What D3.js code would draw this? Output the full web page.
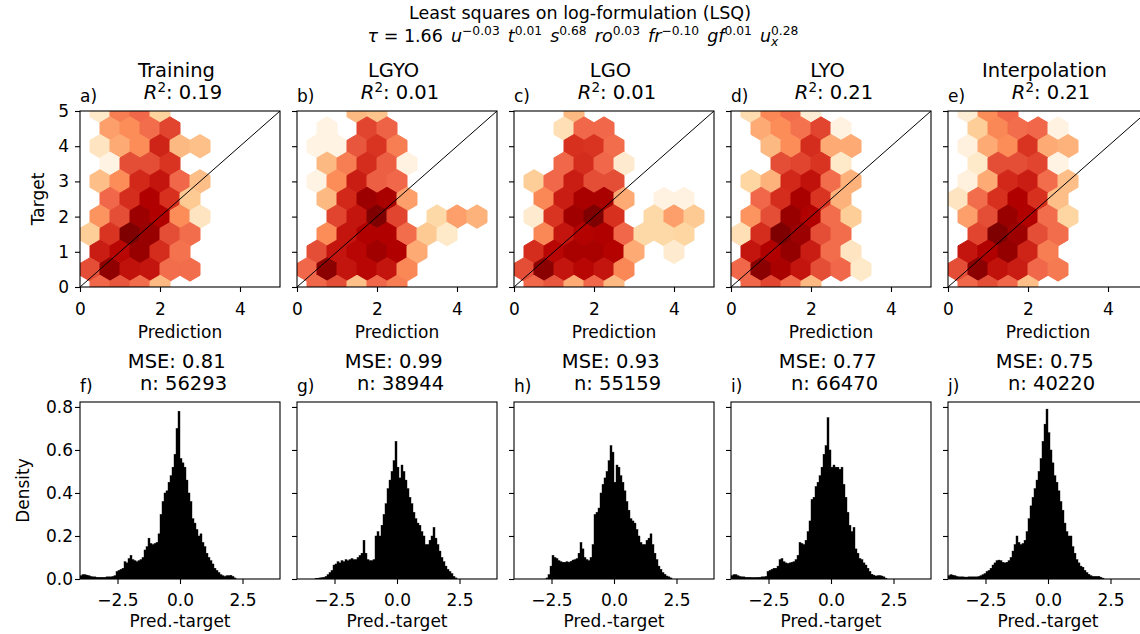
<!DOCTYPE html>
<html><head><meta charset="utf-8">
<script src="https://cdn.jsdelivr.net/npm/d3@7"></script>
<style>
body{margin:0;background:#fff}
svg{display:block}
text{font-family:"DejaVu Sans",sans-serif;fill:#000}
</style>
</head><body>
<svg id="chart" width="1140" height="634"></svg>
<script>
// ---------------- data ----------------
const suptitle = "Least squares on log-formulation (LSQ)";
const formulaCoef = "1.66";
const formulaTerms = [["u","−0.03",""],["t","0.01",""],["s","0.68",""],["ro","0.03",""],["fr","−0.10",""],["gf","0.01",""],["u","0.28","x"]];

const panelTitles = ["Training","LGYO","LGO","LYO","Interpolation"];
const topLetters = ["a)","b)","c)","d)","e)"];
const bottomLetters = ["f)","g)","h)","i)","j)"];
const r2Values = ["0.19","0.01","0.01","0.21","0.21"];
const mseValues = ["0.81","0.99","0.93","0.77","0.75"];
const nValues = ["56293","38944","55159","66470","40220"];

const hexDomain = [0,5];
const hexXTicks = [0,2,4];
const hexYTicks = [0,1,2,3,4,5];
const histXDomain = [-4,4];
const histYDomain = [0,0.823];
const histXTicks = [-2.5,0,2.5];
const histYTicks = [0,0.2,0.4,0.6,0.8];

// hex cells: [x centre, y centre, colour level 0..1 (log count, OrRd)]
const hexTraining = [
[0.5,5,0.12],[1,5,0.55],[1.5,5,0.62],[2,5,0.25],
[0.75,4.5,0.45],[1.25,4.5,0.5],[1.75,4.5,0.6],[2.25,4.5,0.7],
[0.5,4,0.15],[1,4,0.42],[1.5,4,0.5],[2,4,0.78],[2.5,4,0.38],[3,4,0.35],
[0.75,3.5,0.03],[1.25,3.5,0.68],[1.75,3.5,0.68],[2.25,3.5,0.74],
[0.5,3,0.36],[1,3,0.5],[1.5,3,0.77],[2,3,0.82],[2.5,3,0.62],[3,3,0.36],
[0.75,2.5,0.62],[1.25,2.5,0.76],[1.75,2.5,0.88],[2.25,2.5,0.75],[2.75,2.5,0.3],
[0.5,2,0.48],[1,2,0.68],[1.5,2,0.93],[2,2,0.88],[2.5,2,0.5],[3,2,0.15],
[0.25,1.5,0.28],[0.75,1.5,0.74],[1.25,1.5,1.0],[1.75,1.5,0.94],[2.25,1.5,0.68],[2.75,1.5,0.6],
[0.5,1,0.8],[1,1,0.86],[1.5,1,0.94],[2,1,0.76],[2.5,1,0.58],
[0.25,0.5,0.68],[0.75,0.5,0.96],[1.25,0.5,0.83],[1.75,0.5,0.82],[2.25,0.5,0.6],[2.75,0.5,0.6],
[0.5,0,0.62],[1,0,0.66],[1.5,0,0.6],[2,0,0.38]
];
const hexLGYO = [
[1.5,5,0.38],[2,5,0.33],
[0.75,4.5,0.03],[1.75,4.5,0.7],[2.25,4.5,0.63],
[0.5,4,0.03],[1,4,0.03],[1.5,4,0.66],[2,4,0.74],[2.5,4,0.55],
[0.75,3.5,0.38],[1.25,3.5,0.55],[1.75,3.5,0.76],[2.25,3.5,0.64],[2.75,3.5,0.04],
[0.5,3,0.03],[1,3,0.5],[1.5,3,0.8],[2,3,0.64],[2.5,3,0.62],
[0.75,2.5,0.38],[1.25,2.5,0.77],[1.75,2.5,0.93],[2.25,2.5,0.9],[2.75,2.5,0.45],
[1,2,0.7],[1.5,2,0.82],[2,2,1.0],[2.5,2,0.7],[3.5,2,0.22],[4,2,0.45],[4.5,2,0.4],
[0.75,1.5,0.5],[1.25,1.5,0.82],[1.75,1.5,0.88],[2.25,1.5,0.88],[2.75,1.5,0.6],[3.25,1.5,0.3],[3.75,1.5,0.12],
[0.5,1,0.68],[1,1,0.82],[1.5,1,0.86],[2,1,0.92],[2.5,1,0.88],[3,1,0.42],
[0.25,0.5,0.62],[0.75,0.5,0.97],[1.25,0.5,0.82],[1.75,0.5,0.86],[2.25,0.5,0.82],[2.75,0.5,0.52],
[0.5,0,0.62],[1,0,0.68],[1.5,0,0.35],[2,0,0.62],[2.5,0,0.55]
];
const hexLGO = [
[1.5,5,0.38],
[1.25,4.5,0.18],[1.75,4.5,0.62],[2.25,4.5,0.62],
[1.5,4,0.75],[2,4,0.74],[2.5,4,0.6],
[1.25,3.5,0.62],[1.75,3.5,0.76],[2.25,3.5,0.62],[2.75,3.5,0.1],
[0.5,3,0.28],[1,3,0.62],[1.5,3,0.8],[2,3,0.68],[2.5,3,0.68],
[0.75,2.5,0.52],[1.25,2.5,0.8],[1.75,2.5,0.9],[2.25,2.5,0.9],[2.75,2.5,0.42],[3.75,2.5,0.04],[4.25,2.5,0.04],
[0.5,2,0.1],[1,2,0.74],[1.5,2,0.92],[2,2,1.0],[2.5,2,0.75],[3.5,2,0.22],[4,2,0.45],[4.5,2,0.3],
[0.75,1.5,0.52],[1.25,1.5,0.82],[1.75,1.5,0.87],[2.25,1.5,0.88],[2.75,1.5,0.62],[3.25,1.5,0.22],[3.75,1.5,0.22],[4.25,1.5,0.24],
[0.5,1,0.76],[1,1,0.86],[1.5,1,0.9],[2,1,0.9],[2.5,1,0.87],[3,1,0.42],[4,1,0.1],
[0.25,0.5,0.68],[0.75,0.5,0.97],[1.25,0.5,0.82],[1.75,0.5,0.86],[2.25,0.5,0.82],[2.75,0.5,0.52],
[0.5,0,0.62],[1,0,0.66],[1.5,0,0.42],[2,0,0.62],[2.5,0,0.38]
];
const hexLYO = [
[0.5,5,0.2],[1,5,0.52],[1.5,5,0.6],[2,5,0.08],
[0.75,4.5,0.42],[1.25,4.5,0.5],[1.75,4.5,0.58],[2.25,4.5,0.7],[2.75,4.5,0.04],
[1,4,0.38],[1.5,4,0.5],[2,4,0.76],[2.5,4,0.42],[3,4,0.42],
[1.25,3.5,0.68],[1.75,3.5,0.7],[2.25,3.5,0.74],[2.75,3.5,0.12],
[0.5,3,0.24],[1,3,0.4],[1.5,3,0.77],[2,3,0.83],[2.5,3,0.6],[3,3,0.4],
[0.75,2.5,0.62],[1.25,2.5,0.76],[1.75,2.5,0.9],[2.25,2.5,0.74],[2.75,2.5,0.4],
[0.5,2,0.48],[1,2,0.68],[1.5,2,0.94],[2,2,0.88],[2.5,2,0.6],[3,2,0.28],
[0.25,1.5,0.18],[0.75,1.5,0.76],[1.25,1.5,1.0],[1.75,1.5,0.93],[2.25,1.5,0.68],[2.75,1.5,0.6],
[0.5,1,0.82],[1,1,0.88],[1.5,1,0.95],[2,1,0.8],[2.5,1,0.6],[3,1,0.15],
[0.25,0.5,0.62],[0.75,0.5,0.97],[1.25,0.5,0.9],[1.75,0.5,0.82],[2.25,0.5,0.68],[2.75,0.5,0.62],[3.25,0.5,0.12],
[0.5,0,0.62],[1,0,0.7],[1.5,0,0.6],[2,0,0.38]
];
const hexInterpolation = [
[0.5,5,0.08],[1,5,0.5],[1.5,5,0.62],
[0.75,4.5,0.28],[1.25,4.5,0.52],[1.75,4.5,0.6],[2.25,4.5,0.62],[2.75,4.5,0.04],
[0.5,4,0.05],[1,4,0.42],[1.5,4,0.5],[2,4,0.74],[2.5,4,0.42],[3,4,0.4],
[0.75,3.5,0.12],[1.25,3.5,0.68],[1.75,3.5,0.68],[2.25,3.5,0.7],[2.75,3.5,0.03],
[0.5,3,0.05],[1,3,0.42],[1.5,3,0.77],[2,3,0.8],[2.5,3,0.6],[3,3,0.36],
[0.25,2.5,0.15],[0.75,2.5,0.6],[1.25,2.5,0.75],[1.75,2.5,0.88],[2.25,2.5,0.75],[2.75,2.5,0.36],
[0.5,2,0.45],[1,2,0.68],[1.5,2,0.94],[2,2,0.88],[2.5,2,0.6],[3,2,0.24],
[0.75,1.5,0.7],[1.25,1.5,1.0],[1.75,1.5,0.93],[2.25,1.5,0.68],[2.75,1.5,0.6],
[0.5,1,0.82],[1,1,0.88],[1.5,1,0.95],[2,1,0.78],[2.5,1,0.55],
[0.25,0.5,0.68],[0.75,0.5,0.97],[1.25,0.5,0.83],[1.75,0.5,0.8],[2.25,0.5,0.62],[2.75,0.5,0.56],
[0.5,0,0.62],[1,0,0.68],[1.5,0,0.62],[2,0,0.36]
];
const hexPanels = [hexTraining, hexLGYO, hexLGO, hexLYO, hexInterpolation];

// histograms: density per bin, bins of width histBinWidth starting at histStart
const histStart = -4;
const histBinWidth = 0.08;
const histTraining = [0.015,0.02,0.02,0.018,0.015,0.012,0.01,0.01,0.008,0.008,0.008,0.008,0.008,0.01,0.01,0.01,0.012,0.015,
0.035,0.04,0.045,0.05,0.08,0.075,0.095,0.11,0.09,0.085,0.08,0.085,0.09,0.1,0.135,0.15,0.19,0.165,0.16,0.165,0.17,0.21,
0.3,0.36,0.4,0.41,0.45,0.48,0.52,0.58,0.7,0.78,0.56,0.54,0.52,0.46,0.4,0.36,0.28,0.26,0.23,0.2,
0.21,0.17,0.15,0.12,0.1,0.085,0.07,0.05,0.04,0.03,0.02,0.015,0.012,0.015,0.015,0.017,0.012,0.005];
const histLGYO = [0,0,0,0,0,0,0,0,0,0.003,0.004,0.005,0.006,0.008,0.012,0.02,0.03,0.04,
0.065,0.07,0.08,0.075,0.085,0.08,0.09,0.085,0.09,0.095,0.09,0.09,0.1,0.11,0.12,0.18,0.12,0.09,0.085,0.085,0.09,0.2,
0.22,0.2,0.25,0.3,0.35,0.42,0.46,0.5,0.55,0.64,0.52,0.47,0.53,0.5,0.46,0.42,0.38,0.35,0.31,0.28,
0.26,0.25,0.22,0.2,0.16,0.16,0.18,0.2,0.24,0.19,0.16,0.13,0.1,0.08,0.06,0.045,0.035,0.025,0.012,0.005];
const histLGO = [0,0,0,0,0,0,0,0,0,0,0,0,0,0,0,0,0.005,0.02,
0.06,0.11,0.1,0.095,0.085,0.08,0.078,0.078,0.08,0.078,0.082,0.088,0.09,0.095,0.12,0.17,0.14,0.1,0.09,0.085,0.1,0.16,
0.3,0.31,0.33,0.4,0.44,0.47,0.5,0.55,0.62,0.59,0.45,0.53,0.52,0.48,0.45,0.41,0.36,0.32,0.28,0.27,
0.26,0.23,0.2,0.17,0.16,0.16,0.18,0.19,0.21,0.16,0.12,0.09,0.06,0.045,0.03,0.022,0.014,0.01,0.005];
const histLYO = [0.015,0.02,0.02,0.015,0.012,0.01,0.01,0.008,0.008,0.008,0.007,0.007,0.007,0.008,0.008,0.01,0.01,0.012,
0.035,0.04,0.045,0.05,0.05,0.06,0.09,0.095,0.08,0.075,0.072,0.075,0.078,0.08,0.09,0.11,0.17,0.165,0.16,0.18,0.22,0.27,
0.37,0.38,0.43,0.45,0.48,0.52,0.58,0.62,0.75,0.6,0.52,0.53,0.52,0.52,0.51,0.52,0.44,0.38,0.31,0.25,
0.22,0.24,0.14,0.12,0.095,0.09,0.075,0.065,0.05,0.035,0.022,0.018,0.014,0.015,0.016,0.014,0.01,0.004];
const histInterpolation = [0.015,0.02,0.018,0.015,0.012,0.01,0.01,0.01,0.009,0.009,0.01,0.01,0.01,0.01,0.01,0.012,0.015,0.02,
0.025,0.035,0.04,0.05,0.065,0.075,0.085,0.088,0.085,0.078,0.075,0.078,0.085,0.1,0.13,0.16,0.2,0.17,0.16,0.165,0.18,0.22,
0.28,0.34,0.38,0.42,0.46,0.5,0.56,0.64,0.72,0.79,0.68,0.6,0.54,0.48,0.45,0.41,0.36,0.32,0.26,0.22,
0.2,0.2,0.15,0.12,0.09,0.075,0.06,0.055,0.04,0.03,0.022,0.015,0.012,0.012,0.012,0.012,0.008,0.004];
const histPanels = [histTraining, histLGYO, histLGO, histLYO, histInterpolation];

// ---------------- drawing ----------------
const svg = d3.select("#chart");
svg.append("rect").attr("width",1140).attr("height",634).attr("fill","#fff");

const orrd = ["#fff7ec","#fee8c8","#fdd49e","#fdbb84","#fc8d59","#ef6548","#d7301f","#b30000","#7f0000"];
const colour = d3.scaleLinear().domain(d3.range(9).map(i => i/8)).range(orrd).interpolate(d3.interpolateRgb).clamp(true);

const FS = 17, TFS = 19.5, SUP = 12.3, SFS = 17.5;
const panelLeft0 = 80, panelStep = 217, panelW = 200;
const hexTop = 111, hexBottom = 287;
const histTop = 402, histBottom = 579;

function styleAxis(sel){
  sel.select(".domain").remove();
  sel.selectAll(".tick line").attr("stroke","#000").attr("stroke-width",1.1);
  sel.selectAll(".tick text").attr("font-size",FS).attr("font-family","DejaVu Sans").attr("fill","#000");
}

// super title
svg.append("text").attr("x",580).attr("y",18.5).attr("text-anchor","middle").attr("font-size",SFS).text(suptitle);
const ft = svg.append("text").attr("x",583).attr("y",41.7).attr("text-anchor","middle").attr("font-size",SFS).style("white-space","pre");
ft.append("tspan").attr("font-style","italic").text("τ");
ft.append("tspan").text(" = " + formulaCoef);
let raised = false;
formulaTerms.forEach(([v,p,sub]) => {
  ft.append("tspan").attr("dx",2.5).attr("dy", raised ? 7 : 0).text(" ");
  ft.append("tspan").attr("font-style","italic").text(v);
  if (sub) {
    ft.append("tspan").attr("font-style","italic").attr("font-size",SUP).attr("dy",4).text(sub);
    ft.append("tspan").attr("font-size",SUP).attr("dx",-7.3).attr("dy",-11).text(p);
  } else {
    ft.append("tspan").attr("font-size",SUP).attr("dy",-7).text(p);
  }
  raised = true;
});

hexPanels.forEach((cells, i) => {
  const x0 = panelLeft0 + i*panelStep;
  const xs = d3.scaleLinear().domain(hexDomain).range([x0, x0+panelW]);
  const ys = d3.scaleLinear().domain(hexDomain).range([hexBottom, hexTop]);
  const cx = x0 + panelW/2;
  const g = svg.append("g");
  const cid = "hclip"+i;
  svg.append("clipPath").attr("id",cid).append("rect")
     .attr("x",x0).attr("y",hexTop).attr("width",panelW).attr("height",hexBottom-hexTop);
  const hg = g.append("g").attr("clip-path",`url(#${cid})`);
  const hexPts = (x,y) => [[x+0.25,y-1/6],[x+0.25,y+1/6],[x,y+1/3],[x-0.25,y+1/6],[x-0.25,y-1/6],[x,y-1/3]]
      .map(([a,b]) => xs(a)+","+ys(b)).join(" ");
  hg.selectAll("polygon").data(cells).join("polygon")
    .attr("points", d => hexPts(d[0],d[1]))
    .attr("fill", d => colour(d[2]))
    .attr("stroke", d => colour(d[2])).attr("stroke-width",1);
  hg.append("line").attr("x1",xs(0)).attr("y1",ys(0)).attr("x2",xs(5)).attr("y2",ys(5))
    .attr("stroke","#000").attr("stroke-width",1);
  g.append("rect").attr("x",x0).attr("y",hexTop).attr("width",panelW).attr("height",hexBottom-hexTop)
    .attr("fill","none").attr("stroke","#000").attr("stroke-width",1.1);
  const ax = g.append("g").attr("transform",`translate(0,${hexBottom})`)
    .call(d3.axisBottom(xs).tickValues(hexXTicks).tickSize(5).tickPadding(10.5).tickFormat(d3.format("d")));
  styleAxis(ax);
  const ay = g.append("g").attr("transform",`translate(${x0},0)`)
    .call(d3.axisLeft(ys).tickValues(hexYTicks).tickSize(5).tickPadding(6).tickFormat(i===0 ? d3.format("d") : () => ""));
  styleAxis(ay);
  g.append("text").attr("x",cx).attr("y",338).attr("text-anchor","middle").attr("font-size",FS).text("Prediction");
  if (i===0) g.append("text").attr("transform",`translate(44,${(hexTop+hexBottom)/2}) rotate(-90)`)
    .attr("text-anchor","middle").attr("font-size",FS).text("Target");
  g.append("text").attr("x",cx-3.5).attr("y",76.7).attr("text-anchor","middle").attr("font-size",TFS).text(panelTitles[i]);
  const r2 = g.append("text").attr("x",cx+3).attr("y",99.3).attr("text-anchor","middle").attr("font-size",TFS);
  r2.append("tspan").attr("font-style","italic").text("R");
  r2.append("tspan").attr("font-size",13.5).attr("dy",-7).text("2");
  r2.append("tspan").attr("dy",7).text(": " + r2Values[i]);
  g.append("text").attr("x",x0).attr("y",101.5).attr("font-size",FS).text(topLetters[i]);
});

histPanels.forEach((vals, i) => {
  const x0 = panelLeft0 + i*panelStep;
  const xs = d3.scaleLinear().domain(histXDomain).range([x0, x0+panelW]);
  const ys = d3.scaleLinear().domain(histYDomain).range([histBottom, histTop]);
  const cx = x0 + panelW/2;
  const g = svg.append("g");
  const cid = "bclip"+i;
  svg.append("clipPath").attr("id",cid).append("rect")
     .attr("x",x0).attr("y",histTop).attr("width",panelW).attr("height",histBottom-histTop);
  const bins = vals.map((v,k) => ({x0: histStart + k*histBinWidth, x1: histStart + (k+1)*histBinWidth, v}));
  g.append("g").attr("clip-path",`url(#${cid})`).selectAll("rect").data(bins.filter(b => b.v > 0)).join("rect")
    .attr("x", b => xs(b.x0)).attr("width", b => xs(b.x1)-xs(b.x0))
    .attr("y", b => ys(b.v)).attr("height", b => ys(0)-ys(b.v))
    .attr("fill","#000").attr("stroke","#000").attr("stroke-width",0.4);
  g.append("rect").attr("x",x0).attr("y",histTop).attr("width",panelW).attr("height",histBottom-histTop)
    .attr("fill","none").attr("stroke","#000").attr("stroke-width",1.1);
  const ax = g.append("g").attr("transform",`translate(0,${histBottom})`)
    .call(d3.axisBottom(xs).tickValues(histXTicks).tickSize(5).tickPadding(9.5).tickFormat(d3.format(".1f")));
  styleAxis(ax);
  const ay = g.append("g").attr("transform",`translate(${x0},0)`)
    .call(d3.axisLeft(ys).tickValues(histYTicks).tickSize(5).tickPadding(2).tickFormat(i===0 ? d3.format(".1f") : () => ""));
  styleAxis(ay);
  g.append("text").attr("x",cx).attr("y",627).attr("text-anchor","middle").attr("font-size",FS).text("Pred.-target");
  if (i===0) g.append("text").attr("transform",`translate(29,${(histTop+histBottom)/2}) rotate(-90)`)
    .attr("text-anchor","middle").attr("font-size",FS).text("Density");
  g.append("text").attr("x",cx-3.3).attr("y",367.7).attr("text-anchor","middle").attr("font-size",TFS).text("MSE: " + mseValues[i]);
  g.append("text").attr("x",cx+3.5).attr("y",390).attr("text-anchor","middle").attr("font-size",TFS).text("n: " + nValues[i]);
  g.append("text").attr("x",x0).attr("y",392).attr("font-size",FS).text(bottomLetters[i]);
});
</script>
</body></html>
